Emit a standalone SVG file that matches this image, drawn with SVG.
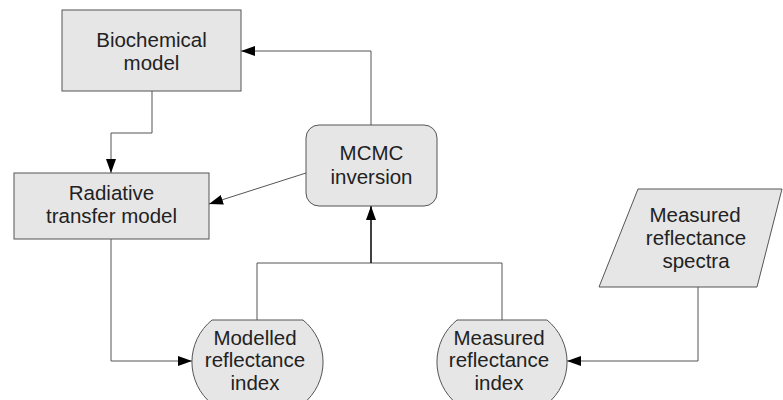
<svg xmlns="http://www.w3.org/2000/svg" width="783" height="400" viewBox="0 0 783 400">
  <style>
    .shape { fill: #e6e6e6; stroke: #555; stroke-width: 1; }
    .label { font-family: "Liberation Sans", Arial, sans-serif; font-size: 20.5px; fill: #222; text-anchor: middle; }
    .conn { fill: none; stroke: #555; stroke-width: 1; }
    .conn-strong { fill: none; stroke: #111; stroke-width: 1.6; }
  </style>
  <defs>
    <marker id="arrow" viewBox="0 0 14 10" refX="14" refY="5" markerWidth="14" markerHeight="10" markerUnits="userSpaceOnUse" orient="auto">
      <path d="M0,0 L14,5 L0,10 Z" fill="#000"/>
    </marker>
  </defs>

  <rect width="783" height="400" fill="#fff"/>

  <g id="connectors">
    <!-- Biochemical model -> Radiative transfer model -->
    <path class="conn" d="M152,91 V133 H111 V173" marker-end="url(#arrow)"/>
    <!-- MCMC inversion -> Biochemical model -->
    <path class="conn" d="M371,125 V51 H241" marker-end="url(#arrow)"/>
    <!-- MCMC inversion -> Radiative transfer model -->
    <path class="conn" d="M306,173 L209,204" marker-end="url(#arrow)"/>
    <!-- Radiative transfer model -> Modelled reflectance index -->
    <path class="conn" d="M111,239 V361 H192" marker-end="url(#arrow)"/>
    <!-- Measured reflectance spectra -> Measured reflectance index -->
    <path class="conn" d="M698,287 V361 H567" marker-end="url(#arrow)"/>
    <!-- both indices join and feed the MCMC inversion -->
    <path class="conn" d="M257,320 V263 H502 V320"/>
    <path class="conn-strong" d="M371,263 V206" marker-end="url(#arrow)"/>
  </g>

  <g id="biochemical-model">
    <rect class="shape" x="62" y="10" width="179" height="81"/>
    <text class="label" x="151.5" y="47">Biochemical</text>
    <text class="label" x="151.5" y="69.5">model</text>
  </g>

  <g id="radiative-transfer-model">
    <rect class="shape" x="14" y="173" width="195" height="66"/>
    <text class="label" x="111.5" y="200">Radiative</text>
    <text class="label" x="111.5" y="223">transfer model</text>
  </g>

  <g id="mcmc-inversion">
    <rect class="shape" x="306" y="125" width="131" height="81" rx="13" ry="13"/>
    <text class="label" x="371.5" y="160">MCMC</text>
    <text class="label" x="371.5" y="183.5">inversion</text>
  </g>

  <g id="measured-reflectance-spectra">
    <polygon class="shape" points="638,189 782,189 757,287 599,287"/>
    <text class="label" x="695" y="222">Measured</text>
    <text class="label" x="696" y="245">reflectance</text>
    <text class="label" x="696" y="268">spectra</text>
  </g>

  <g id="modelled-reflectance-index">
    <path class="shape" d="M212,320 H303 A54,54 0 0 1 303,404 H212 A54,54 0 0 1 212,320 Z"/>
    <text class="label" x="255" y="345">Modelled</text>
    <text class="label" x="255" y="367">reflectance</text>
    <text class="label" x="255" y="390">index</text>
  </g>

  <g id="measured-reflectance-index">
    <path class="shape" d="M457,320 H547 A54,54 0 0 1 547,404 H457 A54,54 0 0 1 457,320 Z"/>
    <text class="label" x="499" y="345">Measured</text>
    <text class="label" x="499" y="367">reflectance</text>
    <text class="label" x="499" y="390">index</text>
  </g>
</svg>
